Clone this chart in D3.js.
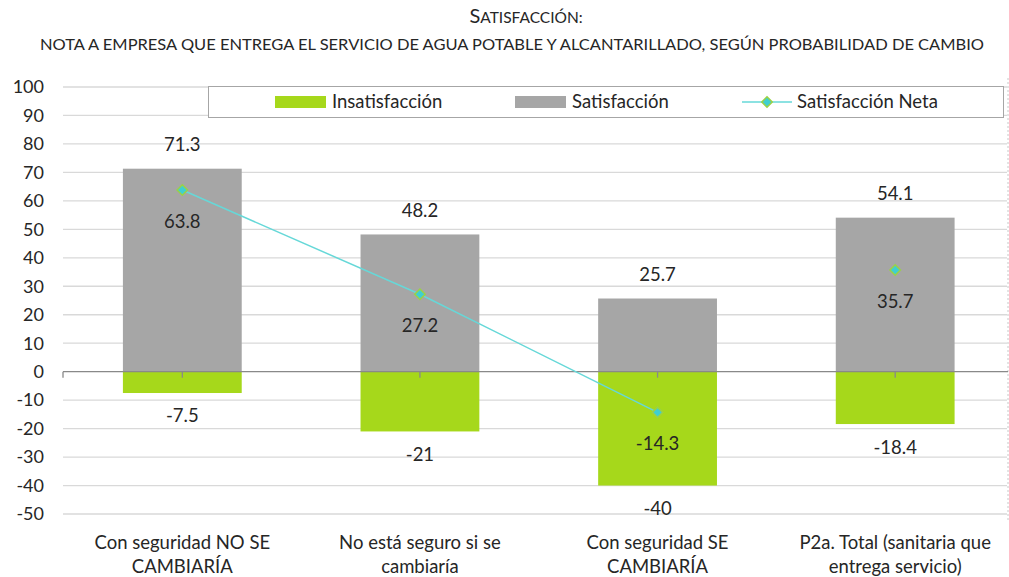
<!DOCTYPE html>
<html>
<head>
<meta charset="utf-8">
<script src="https://cdn.jsdelivr.net/npm/d3@7"></script>
<style>
  body { margin: 0; background: #fff; }
  text { font-family: Lato, "Open Sans", sans-serif; fill: #262626; }
</style>
</head>
<body>
<div id="chart"></div>
<script>
// data
var categories = [
    ["Con seguridad NO SE", "CAMBIARÍA"],
    ["No está seguro si se", "cambiaría"],
    ["Con seguridad SE", "CAMBIARÍA"],
    ["P2a. Total (sanitaria que", "entrega servicio)"]
];
var insatisfaccion = [-7.5, -21, -40, -18.4];
var satisfaccion = [71.3, 48.2, 25.7, 54.1];
var satisfaccionNeta = [63.8, 27.2, -14.3, 35.7];
var yTicks = [100, 90, 80, 70, 60, 50, 40, 30, 20, 10, 0, -10, -20, -30, -40, -50];
var seriesNames = ["Insatisfacción", "Satisfacción", "Satisfacción Neta"];

var green = "#a6d81b";
var gray = "#a6a6a6";
var cyan = "#66d8d8";

var W = 1009, H = 577;
var svg = d3.select("#chart").append("svg")
    .attr("width", W)
    .attr("height", H);

var left = 63, right = 1008;

var yScale = d3.scaleLinear([-50, 100], [514, 87]);
var xScale = d3.scaleBand(d3.range(categories.length), [63.5, 1014]);
var barW = xScale.bandwidth() * 0.5;
function cx(i) { return xScale(i) + xScale.bandwidth() / 2; }

// title
var title = svg.append("text")
    .attr("x", 526)
    .attr("y", 23)
    .attr("text-anchor", "middle");
title.append("tspan").style("font-size", "20px").text("S");
title.append("tspan").style("font-size", "15.5px").text("ATISFACCIÓN:");

svg.append("text")
    .attr("x", 512)
    .attr("y", 50)
    .attr("text-anchor", "middle")
    .attr("textLength", 944)
    .attr("lengthAdjust", "spacingAndGlyphs")
    .style("font-size", "15.5px")
    .text("NOTA A EMPRESA QUE ENTREGA EL SERVICIO DE AGUA POTABLE Y ALCANTARILLADO, SEGÚN PROBABILIDAD DE CAMBIO");

// gridlines
svg.append("g").selectAll("line")
    .data(yTicks.filter(d => d != 0))
    .join("line")
    .attr("x1", left)
    .attr("x2", right - 1)
    .attr("y1", d => yScale(d))
    .attr("y2", d => yScale(d))
    .attr("stroke", "#d9d9d9")
    .attr("stroke-width", 1.3);

// chart right border (dashed, cut off)
svg.append("line")
    .attr("x1", right).attr("x2", right)
    .attr("y1", 78).attr("y2", 520)
    .attr("stroke", "#c8c8c8")
    .attr("stroke-dasharray", "2,2");

// y tick labels
svg.append("g").selectAll("text")
    .data(yTicks)
    .join("text")
    .attr("x", 44)
    .attr("y", d => yScale(d))
    .attr("dy", "0.35em")
    .attr("text-anchor", "end")
    .style("font-size", "18px")
    .text(d => d);

// bars
svg.append("g").selectAll("rect")
    .data(satisfaccion)
    .join("rect")
    .attr("x", (d, i) => cx(i) - barW / 2)
    .attr("width", barW)
    .attr("y", d => yScale(d))
    .attr("height", d => yScale(0) - yScale(d))
    .attr("fill", gray);

svg.append("g").selectAll("rect")
    .data(insatisfaccion)
    .join("rect")
    .attr("x", (d, i) => cx(i) - barW / 2)
    .attr("width", barW)
    .attr("y", yScale(0))
    .attr("height", d => yScale(d) - yScale(0))
    .attr("fill", green);

// zero axis and ticks
svg.append("line")
    .attr("x1", left).attr("x2", right)
    .attr("y1", yScale(0)).attr("y2", yScale(0))
    .attr("stroke", "#898989")
    .attr("stroke-width", 1.3);
svg.append("g").selectAll("line")
    .data([left].concat(categories.map((c, i) => cx(i))))
    .join("line")
    .attr("x1", d => d).attr("x2", d => d)
    .attr("y1", yScale(0)).attr("y2", yScale(0) + 6)
    .attr("stroke", "#898989")
    .attr("stroke-width", 1.3);

// net line: the total (last category) is not joined to the others
var line = d3.line()
    .defined((d, i) => i < categories.length - 1)
    .x((d, i) => cx(i))
    .y(d => yScale(d));
svg.append("path")
    .datum(satisfaccionNeta)
    .attr("d", line)
    .attr("fill", "none")
    .attr("stroke", cyan)
    .attr("stroke-width", 1.5);

var diamond = d3.symbol().type(d3.symbolDiamond2).size(70);
svg.append("g").selectAll("path")
    .data(satisfaccionNeta)
    .join("path")
    .attr("d", diamond)
    .attr("transform", (d, i) => "translate(" + cx(i) + "," + yScale(d) + ")")
    .attr("fill", "#3fcfd0")
    .attr("stroke", "#9bd146")
    .attr("stroke-width", 1.5);

// data labels
var labelSize = "18.5px";
svg.append("g").selectAll("text")
    .data(satisfaccion)
    .join("text")
    .attr("x", (d, i) => cx(i))
    .attr("y", d => yScale(d) - 24)
    .attr("dy", "0.35em")
    .attr("text-anchor", "middle")
    .style("font-size", labelSize)
    .text(d => d);

svg.append("g").selectAll("text")
    .data(insatisfaccion)
    .join("text")
    .attr("x", (d, i) => cx(i))
    .attr("y", d => yScale(d) + 23)
    .attr("dy", "0.35em")
    .attr("text-anchor", "middle")
    .style("font-size", labelSize)
    .text(d => d);

svg.append("g").selectAll("text")
    .data(satisfaccionNeta)
    .join("text")
    .attr("x", (d, i) => cx(i))
    .attr("y", d => yScale(d) + 31)
    .attr("dy", "0.35em")
    .attr("text-anchor", "middle")
    .style("font-size", labelSize)
    .text(d => d);

// category labels
var catG = svg.append("g").selectAll("text")
    .data(categories)
    .join("text")
    .attr("text-anchor", "middle")
    .style("font-size", "18.5px");
catG.selectAll("tspan")
    .data((d, i) => d.map(s => ({s: s, i: i})))
    .join("tspan")
    .attr("x", d => cx(d.i))
    .attr("y", (d, j) => 549 + j * 24)
    .text(d => d.s);

// legend
svg.append("rect")
    .attr("x", 208.5)
    .attr("y", 86.5)
    .attr("width", 795)
    .attr("height", 31)
    .attr("fill", "#fff")
    .attr("stroke", "#a6a6a6");

var legY = 102;
svg.append("rect")
    .attr("x", 275).attr("y", legY - 6)
    .attr("width", 51).attr("height", 12)
    .attr("fill", green);
svg.append("rect")
    .attr("x", 515).attr("y", legY - 6)
    .attr("width", 51).attr("height", 12)
    .attr("fill", gray);
svg.append("line")
    .attr("x1", 742).attr("x2", 792)
    .attr("y1", legY).attr("y2", legY)
    .attr("stroke", cyan)
    .attr("stroke-width", 1.5);
svg.append("path")
    .attr("d", diamond)
    .attr("transform", "translate(767," + legY + ")")
    .attr("fill", "#3fcfd0")
    .attr("stroke", "#9bd146")
    .attr("stroke-width", 1.5);

svg.append("g").selectAll("text")
    .data(seriesNames)
    .join("text")
    .attr("x", (d, i) => [332, 572, 797][i])
    .attr("y", legY)
    .attr("dy", "0.35em")
    .style("font-size", "18.5px")
    .text(d => d);
</script>
</body>
</html>
